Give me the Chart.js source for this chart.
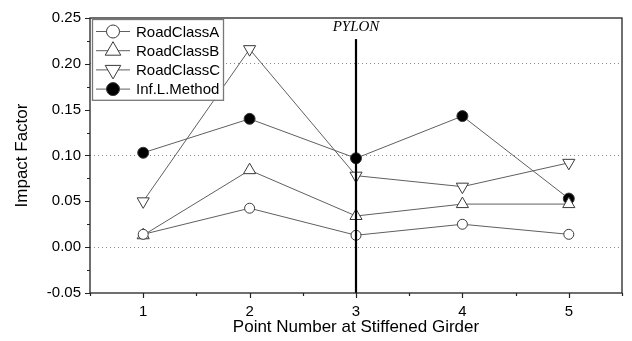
<!DOCTYPE html>
<html>
<head>
<meta charset="utf-8">
<script src="https://cdn.jsdelivr.net/npm/chart.js@4/dist/chart.umd.min.js"></script>
<style>
  body { margin: 0; background: #fff; }
  canvas { display: block; }
</style>
</head>
<body>
<canvas id="myChart" width="632" height="341"></canvas>
<script>
// point numbers along the stiffened girder
const points = [1, 2, 3, 4, 5];
const roadClassA = [0.014, 0.0425, 0.013, 0.025, 0.014];
const roadClassB = [0.013, 0.084, 0.034, 0.047, 0.047];
const roadClassC = [0.050, 0.216, 0.078, 0.066, 0.092];
const infLMethod = [0.103, 0.140, 0.097, 0.143, 0.053];
// pylon position marker
const pylonAt = 3;
const pylonTop = 0.227;
const pylonLabel = "PYLON";
const yTicks = [-0.05, 0, 0.05, 0.1, 0.15, 0.2, 0.25];
const yGrid = [0, 0.1, 0.2];

const LINE = "#5f5f5f";
const EDGE = "#3a3a3a";

function series(label, values, style, rotation, fill, radius) {
  return {
    label: label,
    data: points.map((p, i) => ({ x: p, y: values[i] })),
    borderColor: LINE,
    borderWidth: 1,
    pointStyle: style,
    rotation: rotation,
    pointRadius: radius,
    pointBackgroundColor: fill,
    pointBorderColor: EDGE,
    pointBorderWidth: 1,
    legendRadius: style == "triangle" ? 9 : 6.5,
  };
}

const datasets = [
  {
    label: "pylon",
    data: [{ x: pylonAt, y: -0.05 }, { x: pylonAt, y: pylonTop }],
    borderColor: "#000",
    borderWidth: 2.2,
    pointRadius: 0,
    hideInLegend: true,
  },
  series("RoadClassA", roadClassA, "circle", 0, "#fff", 5),
  series("RoadClassB", roadClassB, "triangle", 0, "#fff", 7),
  series("RoadClassC", roadClassC, "triangle", 180, "#fff", 7),
  series("Inf.L.Method", infLMethod, "circle", 0, "#000", 5.5),
];

// frame, outward ticks, legend box and pylon label
const decorations = {
  id: "decorations",
  afterDraw(chart) {
    const ctx = chart.ctx;
    const a = chart.chartArea;
    const xs = chart.scales.x;
    const ys = chart.scales.y;
    ctx.save();

    ctx.strokeStyle = "#222";
    ctx.lineWidth = 1.3;
    ctx.strokeRect(a.left, a.top, a.right - a.left, a.bottom - a.top);

    ctx.lineWidth = 1.2;
    ctx.beginPath();
    for (let v = -0.05; v <= 0.2501; v += 0.025) {
      const py = Math.round(ys.getPixelForValue(v)) + 0.5;
      const major = Math.abs(v / 0.05 - Math.round(v / 0.05)) < 1e-6;
      ctx.moveTo(a.left, py);
      ctx.lineTo(a.left - (major ? 5 : 3), py);
    }
    for (let v = 0.5; v <= 5.5001; v += 0.5) {
      const px = Math.round(xs.getPixelForValue(v)) + 0.5;
      const major = Math.abs(v - Math.round(v)) < 1e-6;
      ctx.moveTo(px, a.bottom);
      ctx.lineTo(px, a.bottom + (major ? 5 : 3));
    }
    ctx.stroke();

    // pylon label
    ctx.fillStyle = "#000";
    ctx.font = "italic 15px 'Liberation Serif', 'DejaVu Serif', serif";
    ctx.textAlign = "center";
    ctx.textBaseline = "alphabetic";
    ctx.fillText(pylonLabel, xs.getPixelForValue(pylonAt), a.top + 13);

    // legend
    const items = chart.data.datasets.filter(d => !d.hideInLegend);
    const lx = a.left + 2, ly = a.top + 1, lw = 131, rowH = 19.2;
    const lh = items.length * rowH + 4;
    ctx.fillStyle = "#fff";
    ctx.fillRect(lx, ly, lw, lh);
    ctx.strokeStyle = "#777";
    ctx.lineWidth = 1.3;
    ctx.strokeRect(lx + 0.5, ly + 0.5, lw, lh);
    ctx.font = "15px 'Liberation Sans', Arial, sans-serif";
    ctx.textAlign = "left";
    ctx.textBaseline = "middle";
    items.forEach((d, i) => {
      const cy = ly + 12.5 + i * rowH;
      const cx = lx + 21;
      ctx.strokeStyle = LINE;
      ctx.lineWidth = 1;
      ctx.beginPath();
      ctx.moveTo(lx + 4, cy);
      ctx.lineTo(lx + 38, cy);
      ctx.stroke();
      ctx.fillStyle = d.pointBackgroundColor;
      ctx.strokeStyle = EDGE;
      Chart.helpers.drawPoint(ctx, {
        pointStyle: d.pointStyle,
        radius: d.legendRadius,
        rotation: d.rotation,
        borderWidth: 1,
      }, cx, cy);
      ctx.fillStyle = "#000";
      ctx.fillText(d.label, lx + 44, cy + 1);
    });
    ctx.restore();
  },
};

function charter() {
  const ctx = document.getElementById("myChart");
  new Chart(ctx, {
    type: "line",
    data: { datasets: datasets },
    options: {
      responsive: false,
      animation: false,
      layout: { padding: { top: 15, right: 10, left: 0, bottom: 0 } },
      plugins: { legend: { display: false }, tooltip: { enabled: false } },
      scales: {
        x: {
          type: "linear",
          min: 0.5,
          max: 5.5,
          afterBuildTicks: s => { s.ticks = points.map(v => ({ value: v })); },
          afterFit: s => { s.height = 48; },
          grid: { display: false, drawTicks: false },
          border: { display: false },
          ticks: {
            padding: 10,
            color: "#000",
            font: { family: "'Liberation Sans', Arial", size: 15 },
          },
          title: {
            display: true,
            text: "Point Number at Stiffened Girder",
            color: "#000",
            font: { family: "'Liberation Sans', Arial", size: 17 },
            padding: { top: 0, bottom: 3 },
          },
        },
        y: {
          min: -0.05,
          max: 0.25,
          afterBuildTicks: s => { s.ticks = yTicks.map(v => ({ value: v })); },
          afterFit: s => { s.width = 90; },
          grid: {
            drawTicks: false,
            color: c => yGrid.some(g => Math.abs(g - c.tick.value) < 1e-6) ? "#8a8a8a" : "rgba(0,0,0,0)",
            lineWidth: 1,
          },
          border: { display: false, dash: [1, 3] },
          ticks: {
            padding: 9,
            color: "#000",
            font: { family: "'Liberation Sans', Arial", size: 15 },
            callback: v => v.toFixed(2),
          },
          title: {
            display: true,
            text: "Impact Factor",
            color: "#000",
            font: { family: "'Liberation Sans', Arial", size: 17 },
            padding: { top: 12, bottom: 0 },
          },
        },
      },
    },
    plugins: [decorations],
  });
}

window.onload = charter;
</script>
</body>
</html>
